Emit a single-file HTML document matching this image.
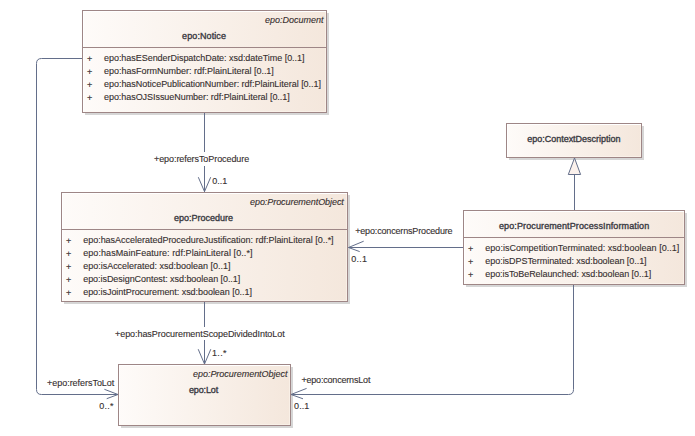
<!DOCTYPE html>
<html><head><meta charset="utf-8"><style>
html,body{margin:0;padding:0;background:#fff;width:695px;height:436px;overflow:hidden;position:relative}
.bx{position:absolute;border:1px solid #9e8686;box-shadow:inset 1px 1px 0 #fff, inset -1px -1px 0 rgba(255,250,244,0.45);background:linear-gradient(to right,#fefbf9,#f4e7dc)}
.sh{position:absolute;background:#d6d6d6}
.dv{position:absolute;height:1px;background:#9e8686}
.t{position:absolute;font-family:"Liberation Sans",sans-serif;font-size:9px;line-height:20px;height:20px;color:#362f2f;white-space:pre;-webkit-text-stroke:0.12px #362f2f}
.i{font-style:italic}
.b{-webkit-text-stroke:0.35px #3a3a42;color:#3a3a42}
.lbg{position:absolute;background:#fff}
</style></head><body>
<div class="sh" style="left:85px;top:113px;width:244px;height:2px"></div>
<div class="sh" style="left:327px;top:13px;width:2px;height:101px"></div>
<div class="bx" style="left:82px;top:10px;width:243px;height:101px"></div>
<div class="sh" style="left:64px;top:302px;width:286px;height:2px"></div>
<div class="sh" style="left:348px;top:195px;width:2px;height:108px"></div>
<div class="bx" style="left:61px;top:192px;width:285px;height:108px"></div>
<div class="sh" style="left:121px;top:426px;width:172px;height:2px"></div>
<div class="sh" style="left:291px;top:367px;width:2px;height:60px"></div>
<div class="bx" style="left:118px;top:364px;width:171px;height:60px"></div>
<div class="sh" style="left:509px;top:158px;width:135px;height:2px"></div>
<div class="sh" style="left:642px;top:126px;width:2px;height:33px"></div>
<div class="bx" style="left:506px;top:123px;width:134px;height:33px"></div>
<div class="sh" style="left:466px;top:285px;width:221px;height:2px"></div>
<div class="sh" style="left:685px;top:213px;width:2px;height:73px"></div>
<div class="bx" style="left:463px;top:210px;width:220px;height:73px"></div>
<div class="dv" style="left:83px;top:47px;width:243px"></div>
<div class="dv" style="left:62px;top:229px;width:285px"></div>
<div class="dv" style="left:464px;top:237px;width:220px"></div>
<svg width="695" height="436" style="position:absolute;left:0;top:0">
<g fill="none" stroke="#636e8a" stroke-width="1">
<path d="M204.5 113 V192"/>
<path d="M198.3 177.2 L204.5 191.6 L210.7 177.2"/>
<path d="M204.5 302 V364"/>
<path d="M198.2 349.2 L204.5 364 L210.8 349.2"/>
<path d="M82 58.5 H41.5 Q36.5 58.5 36.5 63.5 V389.5 Q36.5 394.5 41.5 394.5 H118"/>
<path d="M104.4 389.3 L118 394.5 L106.7 398.7"/>
<path d="M463 247.5 H348.5"/>
<path d="M363.7 241.2 L348.5 247.5 L359.7 251.6"/>
<path d="M573.5 285 V389.5 Q573.5 394.5 568.5 394.5 H291"/>
<path d="M306.6 388.4 L291 394.5 L303 398.8"/>
<path d="M574.5 210 V174.5"/>
<path d="M574.5 158 L568.3 174.5 H580.6 Z" fill="#fbf1ec"/>
</g>
</svg>
<div class="lbg" style="left:150px;top:152px;width:104px;height:14px"></div>
<div class="lbg" style="left:112px;top:327px;width:176px;height:13px"></div>
<div class="t i" style="left:265.0px;top:10px;">epo:Document</div>
<div class="t b" style="left:182.1px;top:26px;letter-spacing:0.089px;">epo:Notice</div>
<div class="t" style="left:104.0px;top:48px;letter-spacing:-0.039px;">epo:hasESenderDispatchDate: xsd:dateTime [0..1]</div>
<div class="t" style="left:104.0px;top:61px;letter-spacing:-0.005px;">epo:hasFormNumber: rdf:PlainLiteral [0..1]</div>
<div class="t" style="left:104.0px;top:74px;letter-spacing:-0.03px;">epo:hasNoticePublicationNumber: rdf:PlainLiteral [0..1]</div>
<div class="t" style="left:104.0px;top:87px;letter-spacing:-0.053px;">epo:hasOJSIssueNumber: rdf:PlainLiteral [0..1]</div>
<div class="t i" style="left:250.0px;top:192px;letter-spacing:-0.06px;">epo:ProcurementObject</div>
<div class="t b" style="left:174.0px;top:208px;">epo:Procedure</div>
<div class="t" style="left:83.2px;top:230px;letter-spacing:-0.019px;">epo:hasAcceleratedProcedureJustification: rdf:PlainLiteral [0..*]</div>
<div class="t" style="left:83.2px;top:243px;letter-spacing:0.076px;">epo:hasMainFeature: rdf:PlainLiteral [0..*]</div>
<div class="t" style="left:83.2px;top:256px;letter-spacing:-0.011px;">epo:isAccelerated: xsd:boolean [0..1]</div>
<div class="t" style="left:83.2px;top:269px;letter-spacing:-0.053px;">epo:isDesignContest: xsd:boolean [0..1]</div>
<div class="t" style="left:83.2px;top:282px;letter-spacing:-0.044px;">epo:isJointProcurement: xsd:boolean [0..1]</div>
<div class="t i" style="left:193.0px;top:364px;letter-spacing:-0.03px;">epo:ProcurementObject</div>
<div class="t b" style="left:189.0px;top:380px;letter-spacing:-0.133px;">epo:Lot</div>
<div class="t b" style="left:527.2px;top:129px;letter-spacing:-0.01px;">epo:ContextDescription</div>
<div class="t b" style="left:499.0px;top:216px;letter-spacing:0.112px;">epo:ProcurementProcessInformation</div>
<div class="t" style="left:485.3px;top:238px;letter-spacing:0.03px;">epo:isCompetitionTerminated: xsd:boolean [0..1]</div>
<div class="t" style="left:485.3px;top:251px;letter-spacing:-0.047px;">epo:isDPSTerminated: xsd:boolean [0..1]</div>
<div class="t" style="left:485.3px;top:264px;letter-spacing:-0.067px;">epo:isToBeRelaunched: xsd:boolean [0..1]</div>
<div class="t" style="left:154.0px;top:149px;letter-spacing:-0.076px;">+epo:refersToProcedure</div>
<div class="t" style="left:212.2px;top:171px;">0..1</div>
<div class="t" style="left:115.0px;top:324px;letter-spacing:-0.059px;">+epo:hasProcurementScopeDividedIntoLot</div>
<div class="t" style="left:212.1px;top:343px;letter-spacing:0.267px;">1..*</div>
<div class="t" style="left:47.1px;top:373px;letter-spacing:-0.04px;">+epo:refersToLot</div>
<div class="t" style="left:99.3px;top:396px;letter-spacing:0.2px;">0..*</div>
<div class="t" style="left:355.2px;top:221px;letter-spacing:-0.162px;">+epo:concernsProcedure</div>
<div class="t" style="left:351.3px;top:249px;letter-spacing:0.2px;">0..1</div>
<div class="t" style="left:301.4px;top:370px;letter-spacing:-0.187px;">+epo:concernsLot</div>
<div class="t" style="left:294.1px;top:396px;letter-spacing:0.067px;">0..1</div>
<div class="t" style="left:87.0px;top:49px">+</div>
<div class="t" style="left:87.0px;top:62px">+</div>
<div class="t" style="left:87.0px;top:75px">+</div>
<div class="t" style="left:87.0px;top:88px">+</div>
<div class="t" style="left:65.9px;top:231px">+</div>
<div class="t" style="left:65.9px;top:244px">+</div>
<div class="t" style="left:65.9px;top:257px">+</div>
<div class="t" style="left:65.9px;top:270px">+</div>
<div class="t" style="left:65.9px;top:283px">+</div>
<div class="t" style="left:467.9px;top:239px">+</div>
<div class="t" style="left:467.9px;top:252px">+</div>
<div class="t" style="left:467.9px;top:265px">+</div>
</body></html>
